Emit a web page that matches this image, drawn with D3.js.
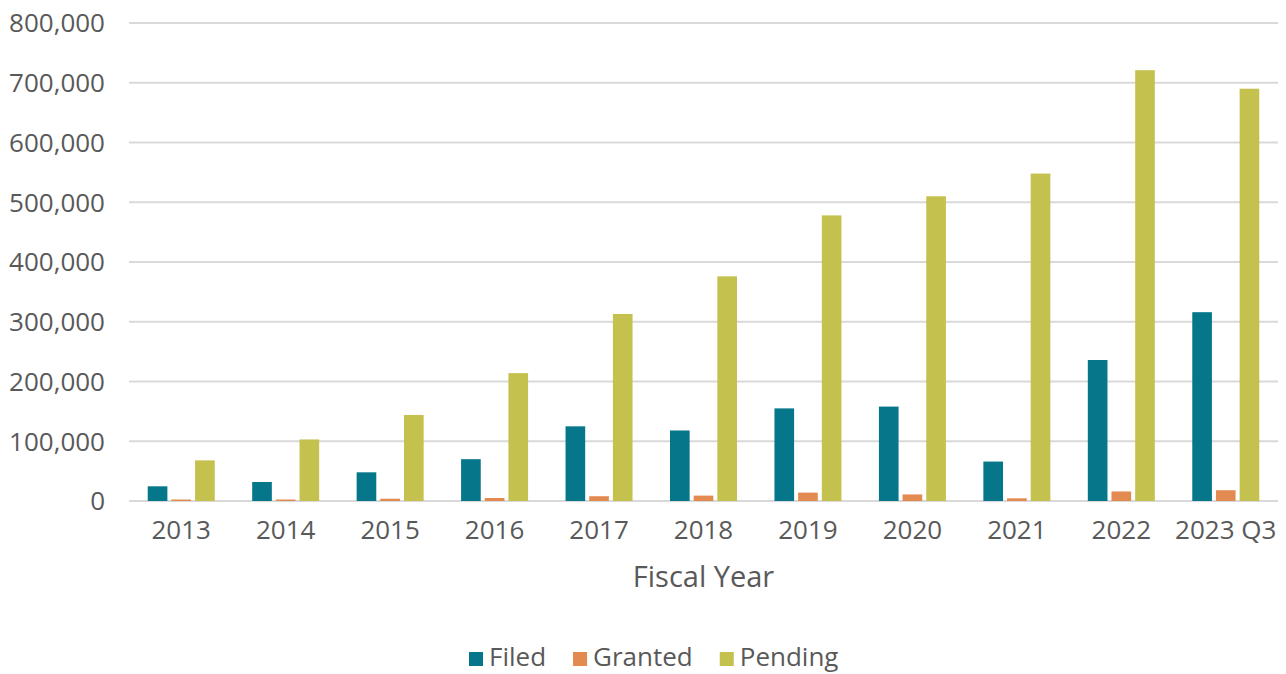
<!DOCTYPE html>
<html>
<head>
<meta charset="utf-8">
<script src="https://cdn.jsdelivr.net/npm/d3@7"></script>
<style>
  body { margin: 0; background: #fff; }
  svg text { font-family: "Open Sans", sans-serif; fill: #595959; }
</style>
</head>
<body>
<div id="chart"></div>
<script>
const years = ["2013", "2014", "2015", "2016", "2017", "2018", "2019", "2020", "2021", "2022", "2023 Q3"];
const seriesNames = ["Filed", "Granted", "Pending"];
const filed   = [24600, 31800, 48000, 70000, 125000, 118000, 155000, 158000, 66000, 236000, 316000];
const granted = [2500, 2500, 3800, 5000, 8000, 9000, 14000, 11000, 4500, 16000, 18000];
const pending = [68000, 103000, 144000, 214000, 313000, 376000, 478000, 510000, 548000, 721000, 690000];
const yTicks = [0, 100000, 200000, 300000, 400000, 500000, 600000, 700000, 800000];
const colors = ["#06778a", "#e38a50", "#c5c14e"];

const W = 1286, H = 674;
const margin = {top: 23, right: 8, bottom: 173, left: 129};
const width = W - margin.left - margin.right,
      height = H - margin.top - margin.bottom;

const svg = d3.select("#chart")
    .append("svg")
    .attr("width", W)
    .attr("height", H);

const g = svg.append("g")
    .attr("transform", `translate(${margin.left},${margin.top})`);

const x = d3.scaleBand()
    .domain(years)
    .range([0, width]);

// bars inside one year group
const xInner = d3.scaleBand()
    .domain(seriesNames)
    .range([0, 67])
    .paddingInner(0.17);

const y = d3.scaleLinear()
    .domain([0, 800000])
    .range([height, 0]);

// gridlines
g.selectAll(".grid")
    .data(yTicks)
    .join("line")
    .attr("class", "grid")
    .attr("x1", 0)
    .attr("x2", width)
    .attr("y1", d => y(d))
    .attr("y2", d => y(d))
    .attr("stroke", "#d9d9d9")
    .attr("stroke-width", 2);

// y labels
g.selectAll(".ylab")
    .data(yTicks)
    .join("text")
    .attr("class", "ylab")
    .attr("x", -24)
    .attr("y", d => y(d))
    .attr("dy", "0.36em")
    .attr("text-anchor", "end")
    .style("font-size", "26px")
    .text(d => d3.format(",")(d));

// bars
const series = [filed, granted, pending];
const rows = [];
years.forEach((yr, i) => {
    seriesNames.forEach((s, j) => {
        rows.push({year: yr, name: s, value: series[j][i], color: colors[j]});
    });
});

g.selectAll(".bar")
    .data(rows)
    .join("rect")
    .attr("class", "bar")
    .attr("x", d => x(d.year) + (x.bandwidth() - 67) / 2 + xInner(d.name))
    .attr("width", xInner.bandwidth())
    .attr("y", d => y(d.value))
    .attr("height", d => height - y(d.value))
    .attr("fill", d => d.color);

// x labels
g.selectAll(".xlab")
    .data(years)
    .join("text")
    .attr("class", "xlab")
    .attr("x", d => x(d) + x.bandwidth() / 2)
    .attr("y", height + 38)
    .attr("text-anchor", "middle")
    .style("font-size", "26px")
    .text(d => d);

// axis title
g.append("text")
    .attr("x", width / 2)
    .attr("y", height + 86)
    .attr("text-anchor", "middle")
    .style("font-size", "29px")
    .text("Fiscal Year");

// legend
const legend = svg.append("g")
    .attr("transform", "translate(469,652)");

let lx = 0;
seriesNames.forEach((s, i) => {
    legend.append("rect")
        .attr("x", lx)
        .attr("y", 0)
        .attr("width", 14)
        .attr("height", 14)
        .attr("fill", colors[i]);
    const t = legend.append("text")
        .attr("x", lx + 20)
        .attr("y", 14)
        .style("font-size", "26px")
        .text(s);
    lx += 20 + t.node().getComputedTextLength() + 27;
});
</script>
</body>
</html>
